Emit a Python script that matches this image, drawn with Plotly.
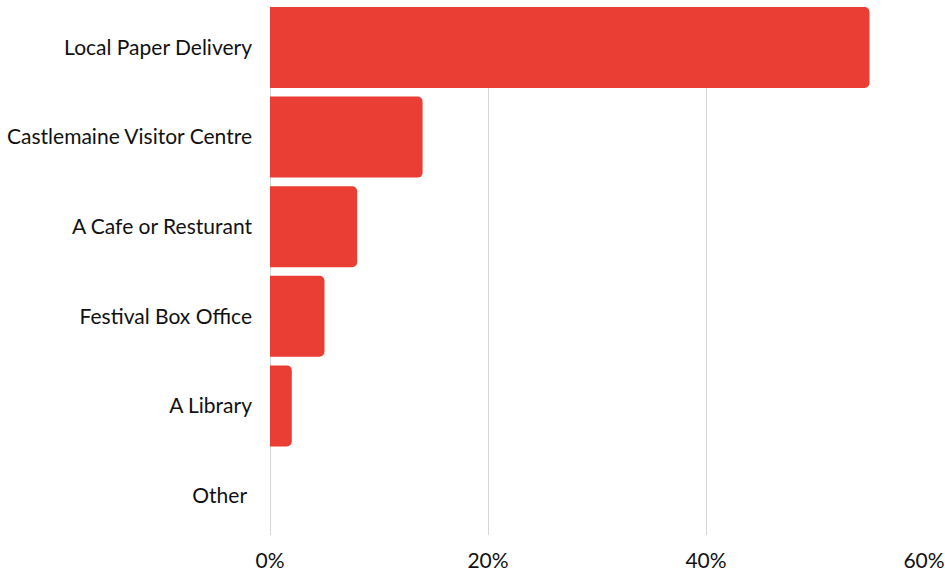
import plotly.graph_objects as go

categories = [
    "Local Paper Delivery",
    "Castlemaine Visitor Centre",
    "A Cafe or Resturant",
    "Festival Box Office",
    "A Library",
    "Other\u00a0",
]
percentages = [55, 14, 8, 5, 2, 0]
tick_values = [0, 20, 40, 60]
tick_labels = ["0%", "20%", "40%", "60%"]

fig = go.Figure(
    go.Bar(
        x=percentages,
        y=categories,
        orientation="h",
        marker=dict(color="#EA3D33", line=dict(width=0)),
        hoverinfo="x+y",
    )
)

fig.update_layout(
    width=945,
    height=572,
    margin=dict(l=270, r=21, t=7, b=37),
    paper_bgcolor="white",
    plot_bgcolor="white",
    bargap=0.096,
    barcornerradius=5,
    showlegend=False,
    font=dict(family="Lato, sans-serif", size=21, color="#111111"),
    xaxis=dict(
        range=[0, 60],
        tickvals=tick_values,
        ticktext=tick_labels,
        automargin=False,
        showgrid=True,
        gridcolor="#D6D6D6",
        gridwidth=1,
        zeroline=True,
        zerolinecolor="#D6D6D6",
        zerolinewidth=1,
        showline=False,
        ticks="",
        ticklabelstandoff=11,
        tickfont=dict(size=21),
    ),
    yaxis=dict(
        categoryorder="array",
        categoryarray=categories,
        range=[5.441, -0.452],
        automargin=False,
        showgrid=False,
        zeroline=False,
        showline=False,
        ticks="",
        ticklabelstandoff=17,
        tickfont=dict(size=21),
    ),
)

fig.write_html("out.html")
